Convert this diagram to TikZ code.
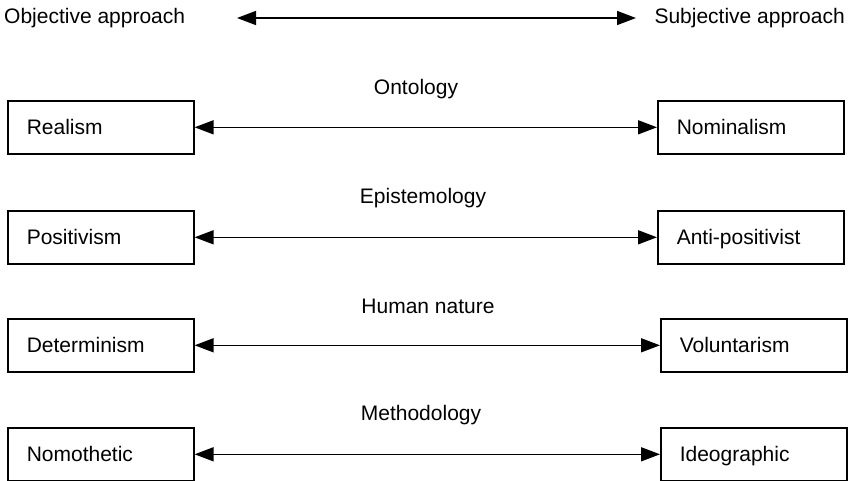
\documentclass[tikz,border=0pt]{standalone}
\usepackage{fontspec}
\setmainfont{Liberation Sans}
\usetikzlibrary{arrows.meta}
\begin{document}
\begin{tikzpicture}[x=1pt,y=-1pt,
  every node/.style={font=\fontsize{21}{25}\selectfont},
  sbox/.style={draw,line width=1.6pt,minimum width=186pt,minimum height=53pt,text width=148pt,text height=15pt,text depth=0pt,align=left,inner xsep=19pt,inner ysep=0pt,anchor=north west},
  lbl/.style={inner sep=0pt},
  biarrow/.style={line width=1.5pt,{Triangle[length=19pt,width=14pt]}-{Triangle[length=19pt,width=14pt]}}
]
\useasboundingbox (0,0) rectangle (849,480);
\node[lbl,anchor=west] (obj) at (4,18) {Objective approach};
\node[lbl,anchor=east] (subj) at (845,18) {Subjective approach};
\coordinate (ta) at (237,18);
\coordinate (tb) at (636,18);
\draw[biarrow] (ta) -- (tb);

\node[sbox] (real) at (7,100) {Realism};
\node[sbox] (nom) at (657,100) {Nominalism};
\node[lbl] (ont) at (416,89) {Ontology};
\draw[biarrow] (real) -- (nom);

\node[sbox] (pos) at (7,210) {Positivism};
\node[sbox] (anti) at (657,210) {Anti-positivist};
\node[lbl] (epi) at (423,198) {Epistemology};
\draw[biarrow] (pos) -- (anti);

\node[sbox] (det) at (7,318) {Determinism};
\node[sbox] (vol) at (660,318) {Voluntarism};
\node[lbl] (hum) at (428,306) {Human nature};
\draw[biarrow] (det) -- (vol);

\node[sbox] (nomo) at (7,427) {Nomothetic};
\node[sbox] (ideo) at (660,427) {Ideographic};
\node[lbl] (meth) at (421,415) {Methodology};
\draw[biarrow] (nomo) -- (ideo);
\end{tikzpicture}
\end{document}
